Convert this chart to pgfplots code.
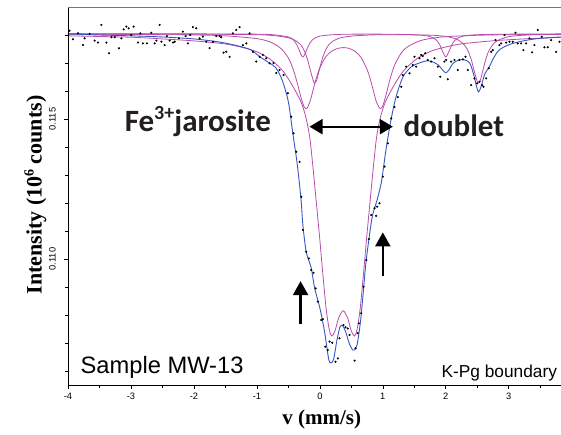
\documentclass[border=0pt]{standalone}
\usepackage{fontspec}
\setmainfont{Liberation Sans}
\newfontfamily\arialf{Liberation Sans}
\newfontfamily\calibrif{Carlito}
\newfontfamily\timesf{Liberation Serif}
\usepackage{pgfplots}
\pgfplotsset{compat=1.18}
\usetikzlibrary{arrows.meta}
\definecolor{fitblue}{RGB}{55,85,195}
\definecolor{subpink}{RGB}{185,75,170}
\definecolor{txtgray}{RGB}{35,31,32}
\begin{document}
\begin{tikzpicture}
\begin{axis}[
  at={(0,0)}, anchor=south west, scale only axis,
  width=493pt, height=378pt,
  xmin=-4, xmax=3.83, ymin=0.1055, ymax=0.119,
  axis line style={draw=none},
  xtick={-4,-3,-2,-1,0,1,2,3},
  xticklabels={-4,-3,-2,-1,0,1,2,3},
  minor xtick={-3.5,-2.5,-1.5,-0.5,0.5,1.5,2.5,3.5},
  ytick={0.110,0.115},
  yticklabels={0.110,0.115},
  minor ytick={0.106,0.107,0.108,0.109,0.111,0.112,0.113,0.114,0.116,0.117,0.118},
  tick pos=left, tick align=outside,
  major tick length=4pt, minor tick length=3pt,
  every tick/.style={black, line width=0.6pt},
  /pgf/number format/assume math mode=true,
  xticklabel style={font=\arialf\fontsize{9.3}{10}\selectfont, inner sep=0pt, anchor=north, yshift=-4pt},
  yticklabel style={font=\arialf\fontsize{9.3}{10}\selectfont, xshift=-8pt, rotate=90, inner sep=0pt, anchor=south},
]
% subspectrum D (Fe3+ jarosite doublet)
\addplot[subpink, line width=0.8pt, smooth] table {
-4 0.11797
-3 0.11792
-2.5 0.11786
-2 0.11779
-1.5 0.11768
-1.2 0.11754
-1.0 0.11740
-0.8 0.11715
-0.6 0.11675
-0.45 0.11625
-0.3 0.11561
-0.22 0.11504
-0.16 0.11433
-0.11 0.11329
-0.06 0.11211
-0.03 0.11140
0.0 0.11068
0.05 0.10940
0.1 0.10822
0.15 0.10747
0.19 0.10725
0.24 0.10743
0.3 0.10790
0.37 0.10815
0.44 0.10790
0.50 0.10743
0.55 0.10725
0.59 0.10747
0.64 0.10822
0.69 0.10940
0.74 0.11068
0.77 0.11140
0.80 0.11211
0.85 0.11329
0.90 0.11433
0.96 0.11504
1.04 0.11561
1.19 0.11625
1.34 0.11675
1.54 0.11715
1.74 0.11740
1.94 0.11754
2.24 0.11768
2.74 0.11779
3.24 0.11786
3.83 0.11792
};
% subspectrum C
\addplot[subpink, line width=0.8pt, smooth] table {
-4 0.11803
-3 0.11802
-2 0.11800
-1.5 0.11797
-1 0.11787
-0.8 0.11776
-0.7 0.11765
-0.6 0.11748
-0.5 0.11718
-0.45 0.11694
-0.4 0.11661
-0.35 0.11621
-0.3 0.11577
-0.25 0.11543
-0.22 0.11537
-0.2 0.11539
-0.15 0.11567
-0.1 0.11610
-0.05 0.11650
0 0.11683
0.1 0.11724
0.2 0.11744
0.3 0.11753
0.37 0.11755
0.45 0.11753
0.55 0.11743
0.65 0.11721
0.75 0.11677
0.8 0.11643
0.85 0.11601
0.9 0.11560
0.96 0.11537
1.0 0.11548
1.05 0.11585
1.1 0.11630
1.15 0.11669
1.2 0.11699
1.3 0.11738
1.4 0.11759
1.6 0.11780
1.8 0.11789
2.0 0.11794
2.5 0.11799
3.0 0.11801
3.83 0.11802
};
% subspectrum B
\addplot[subpink, line width=0.8pt, smooth] table {
-4 0.11804
-2 0.11803
-1 0.11801
-0.7 0.11797
-0.5 0.11790
-0.4 0.11782
-0.3 0.11764
-0.25 0.11745
-0.2 0.11716
-0.15 0.11673
-0.1 0.11634
-0.08 0.11629
-0.05 0.11639
0 0.11683
0.05 0.11723
0.1 0.11750
0.15 0.11767
0.2 0.11777
0.3 0.11788
0.4 0.11793
0.55 0.11797
0.8 0.11800
1.0 0.11801
1.3 0.11801
1.6 0.11800
1.8 0.11799
2.0 0.11795
2.1 0.11790
2.2 0.11782
2.3 0.11763
2.35 0.11745
2.4 0.11716
2.45 0.11673
2.5 0.11633
2.52 0.11629
2.55 0.11639
2.6 0.11683
2.65 0.11724
2.7 0.11750
2.8 0.11777
3.0 0.11794
3.3 0.11800
3.83 0.11803
};
% subspectrum A
\addplot[subpink, line width=0.8pt, smooth] table {
-4 0.11804
-2 0.11804
-1 0.11803
-0.7 0.11800
-0.5 0.11793
-0.45 0.11788
-0.4 0.11777
-0.35 0.11758
-0.3 0.11730
-0.27 0.11722
-0.24 0.11730
-0.2 0.11753
-0.15 0.11774
-0.1 0.11786
-0.05 0.11792
0 0.11796
0.2 0.11801
0.5 0.11803
1.0 0.11803
1.5 0.11801
1.7 0.11797
1.8 0.11790
1.85 0.11782
1.9 0.11767
1.95 0.11741
2.0 0.11722
2.05 0.11741
2.1 0.11767
2.15 0.11782
2.2 0.11790
2.3 0.11797
2.5 0.11801
3.0 0.11803
3.83 0.11804
};
% total fit
\addplot[fitblue, line width=0.9pt, smooth] table {
-4.0 0.11804
-3.5 0.11800
-3.0 0.11797
-2.5 0.11793
-2.0 0.11786
-1.6 0.11775
-1.3 0.11761
-1.1 0.11747
-0.95 0.11722
-0.8 0.11700
-0.7 0.11683
-0.6 0.11640
-0.5 0.11561
-0.43 0.11450
-0.36 0.11340
-0.3 0.11215
-0.27 0.11122
-0.216 0.11025
-0.137 0.10968
-0.084 0.10897
0 0.10825
0.075 0.10740
0.14 0.10643
0.18 0.10629
0.22 0.10643
0.27 0.10708
0.32 0.10758
0.365 0.10761
0.41 0.10740
0.47 0.10697
0.52 0.10675
0.55 0.10675
0.59 0.10693
0.62 0.10733
0.65 0.10786
0.69 0.10883
0.73 0.10983
0.78 0.11072
0.835 0.11154
0.9 0.11204
0.975 0.11272
1.05 0.11390
1.13 0.11497
1.21 0.11579
1.32 0.11650
1.45 0.11686
1.58 0.11700
1.7 0.11708
1.79 0.11704
1.88 0.11693
1.95 0.11675
2.0 0.11665
2.05 0.11675
2.12 0.11700
2.22 0.11711
2.3 0.11711
2.38 0.11700
2.44 0.11661
2.49 0.11615
2.52 0.11597
2.56 0.11615
2.62 0.11661
2.69 0.11686
2.76 0.11718
2.85 0.11747
3.0 0.11765
3.15 0.11775
3.33 0.11783
3.5 0.11788
3.83 0.11793
};
% measured counts
\addplot[only marks, mark=*, mark size=0.85pt, black] table {
-3.976 0.11815
-3.921 0.11785
-3.841 0.11806
-3.762 0.11764
-3.735 0.11788
-3.656 0.11804
-3.576 0.11780
-3.524 0.11773
-3.470 0.11836
-3.390 0.11773
-3.349 0.11735
-3.311 0.11792
-3.259 0.11792
-3.190 0.11753
-3.152 0.11788
-3.116 0.11820
-3.073 0.11830
-3.037 0.11824
-2.994 0.11800
-2.957 0.11830
-2.889 0.11773
-2.851 0.11806
-2.810 0.11770
-2.746 0.11770
-2.676 0.11808
-2.624 0.11770
-2.597 0.11780
-2.544 0.11836
-2.517 0.11776
-2.465 0.11764
-2.429 0.11796
-2.386 0.11780
-2.333 0.11773
-2.306 0.11776
-2.238 0.11788
-2.175 0.11812
-2.132 0.11796
-2.095 0.11770
-2.057 0.11800
-2.016 0.11828
-1.962 0.11824
-1.910 0.11788
-1.857 0.11794
-1.803 0.11776
-1.751 0.11753
-1.698 0.11776
-1.644 0.11796
-1.592 0.11796
-1.565 0.11792
-1.529 0.11737
-1.486 0.11740
-1.433 0.11722
-1.381 0.11806
-1.327 0.11818
-1.275 0.11828
-1.222 0.11764
-1.168 0.11770
-1.116 0.11806
-1.063 0.11740
-1.010 0.11705
-0.957 0.11722
-0.905 0.11729
-0.851 0.11717
-0.798 0.11699
-0.735 0.11700
-0.692 0.11664
-0.640 0.11675
-0.576 0.11657
-0.508 0.11592
-0.454 0.11508
-0.417 0.11449
-0.375 0.11383
-0.322 0.11347
-0.295 0.11222
-0.270 0.11104
-0.216 0.11026
-0.175 0.11002
-0.137 0.10961
-0.100 0.10951
-0.068 0.10895
-0.032 0.10848
0.022 0.10782
0.048 0.10785
0.086 0.10687
0.127 0.10675
0.154 0.10705
0.197 0.10701
0.249 0.10633
0.286 0.10645
0.313 0.10717
0.376 0.10764
0.408 0.10756
0.444 0.10752
0.471 0.10729
0.551 0.10637
0.567 0.10681
0.603 0.10735
0.619 0.10770
0.657 0.10806
0.694 0.10901
0.737 0.10996
0.778 0.11071
0.816 0.11157
0.868 0.11181
0.895 0.11154
0.911 0.11187
0.948 0.11199
1.000 0.11294
1.027 0.11330
1.079 0.11413
1.133 0.11502
1.186 0.11543
1.238 0.11578
1.292 0.11615
1.317 0.11657
1.371 0.11687
1.424 0.11663
1.476 0.11693
1.503 0.11722
1.530 0.11687
1.583 0.11717
1.610 0.11729
1.635 0.11725
1.673 0.11735
1.714 0.11711
1.768 0.11705
1.821 0.11717
1.873 0.11687
1.911 0.11651
1.979 0.11705
2.006 0.11711
2.032 0.11642
2.086 0.11705
2.138 0.11711
2.190 0.11675
2.217 0.11711
2.270 0.11713
2.313 0.11722
2.349 0.11675
2.403 0.11621
2.456 0.11645
2.498 0.11627
2.535 0.11633
2.578 0.11621
2.598 0.11615
2.641 0.11645
2.683 0.11681
2.721 0.11740
2.746 0.11746
2.789 0.11782
2.852 0.11764
2.879 0.11770
2.932 0.11800
2.959 0.11773
3.011 0.11776
3.063 0.11776
3.106 0.11808
3.143 0.11770
3.197 0.11770
3.233 0.11746
3.276 0.11770
3.329 0.11788
3.371 0.11738
3.408 0.11764
3.460 0.11818
3.524 0.11794
3.567 0.11756
3.619 0.11756
3.673 0.11782
3.752 0.11740
3.805 0.11776
};
% annotations
\node[anchor=base west, inner sep=0pt, text=txtgray, font=\calibrif\bfseries\fontsize{31}{31}\selectfont] at (axis cs:-3.1,0.11455) {Fe\raisebox{12pt}{\fontsize{20}{20}\selectfont 3+}jarosite};
\node[anchor=base west, inner sep=0pt, text=txtgray, font=\calibrif\bfseries\fontsize{31}{31}\selectfont] at (axis cs:1.329,0.11437) {doublet};
\draw[{Triangle[length=13pt,width=15pt]}-{Triangle[length=13pt,width=15pt]}, line width=2pt, black] (axis cs:-0.164,0.114725) -- (axis cs:1.159,0.114725);
\draw[-{Triangle[length=14pt,width=15pt]}, line width=2.2pt, black] (axis cs:-0.306,0.10768) -- (axis cs:-0.306,0.10921);
\draw[-{Triangle[length=14pt,width=15pt]}, line width=2.2pt, black] (axis cs:1.0,0.10939) -- (axis cs:1.0,0.11095);
\node[anchor=base west, inner sep=0pt, font=\arialf\fontsize{23.7}{24}\selectfont] at (axis cs:-3.803,0.10592) {Sample MW-13};
\node[anchor=base west, inner sep=0pt, font=\arialf\fontsize{17.3}{18}\selectfont] at (axis cs:1.93,0.10576) {K-Pg boundary};
\end{axis}
\draw[black, line width=0.8pt] (0,378pt) -- (0,0) -- (493pt,0);
\draw[black!55, line width=0.8pt] (0,378pt) -- (493pt,378pt);
\node[rotate=90, anchor=base, inner sep=0pt, font=\timesf\bfseries\fontsize{22}{22}\selectfont] at (-26.3pt,190pt) {Intensity (10\raisebox{8pt}{\fontsize{14}{14}\selectfont 6} counts)};
\node[anchor=base, inner sep=0pt, font=\timesf\bfseries\fontsize{21}{21}\selectfont] at (253.7pt,-39pt) {v (mm/s)};
\pgfresetboundingbox
\useasboundingbox (-68pt,-49pt) rectangle (493pt,385pt);
\end{tikzpicture}
\end{document}
